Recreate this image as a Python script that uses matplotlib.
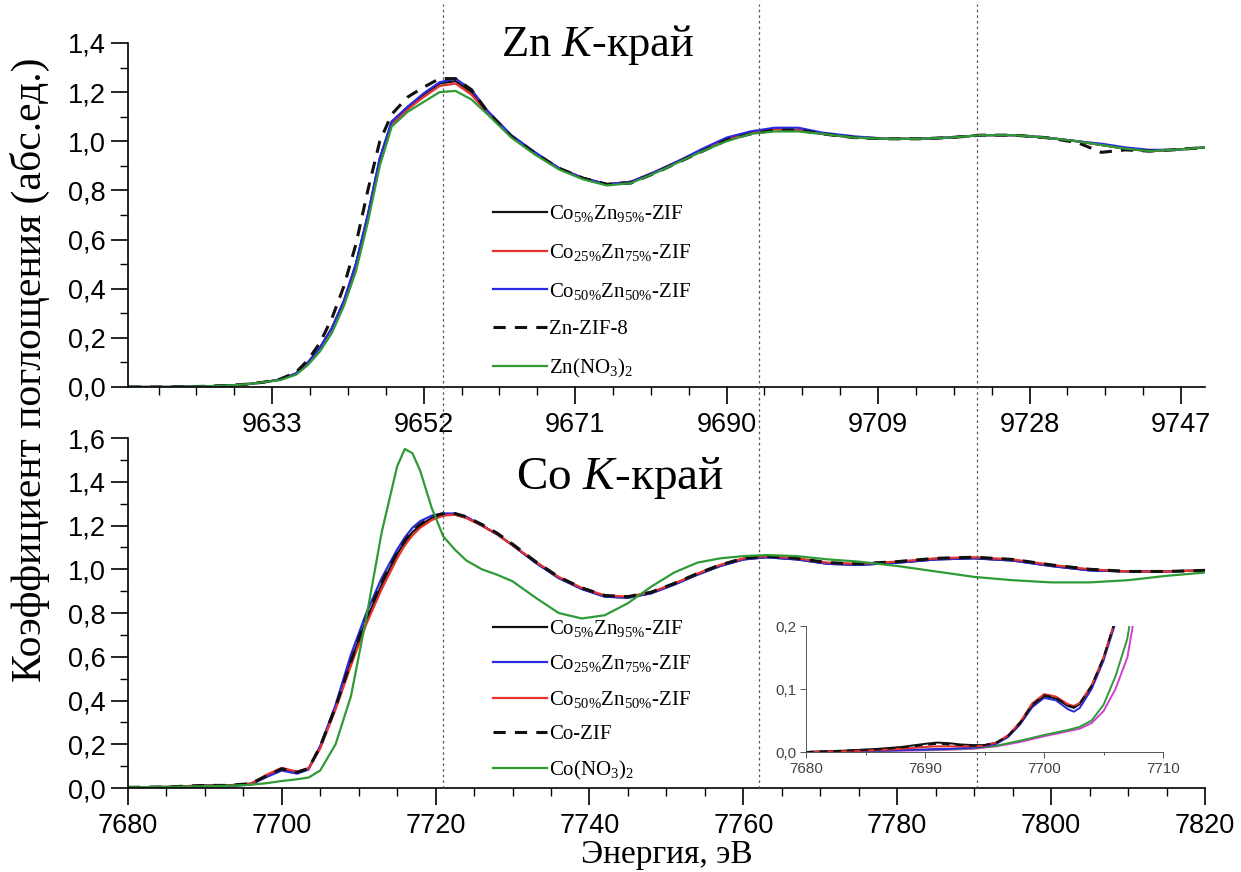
import matplotlib
matplotlib.use("Agg")
import matplotlib.pyplot as plt
import matplotlib.transforms as mtransforms
from matplotlib.lines import Line2D
from matplotlib.ticker import MultipleLocator, FuncFormatter

plt.rcParams['font.family'] = 'Liberation Sans'
plt.rcParams['mathtext.fontset'] = 'custom'
plt.rcParams['mathtext.rm'] = 'Liberation Serif'
plt.rcParams['mathtext.it'] = 'Liberation Serif:italic'
SERIF = 'Liberation Serif'

# ---------------- Zn K-edge (top) ----------------
E_ZN = [9615, 9620, 9625, 9628, 9630, 9632, 9634, 9636, 9637.5, 9639, 9640.5, 9642,
        9643.5, 9645, 9646.5, 9648, 9650, 9652, 9654, 9656, 9658, 9660, 9663, 9666,
        9669, 9672, 9675, 9678, 9681, 9684, 9687, 9690, 9693, 9696, 9699, 9702, 9706,
        9710, 9714, 9718, 9722, 9726, 9730, 9734, 9737, 9740, 9743, 9746, 9750]
ZN_CO5 = [0.0, 0.0, 0.003, 0.007, 0.012, 0.02, 0.03, 0.055, 0.10, 0.16, 0.24, 0.35,
          0.50, 0.70, 0.93, 1.08, 1.14, 1.19, 1.235, 1.245, 1.20, 1.12, 1.02, 0.95,
          0.89, 0.85, 0.825, 0.835, 0.875, 0.92, 0.965, 1.01, 1.035, 1.05, 1.045, 1.03,
          1.015, 1.01, 1.01, 1.015, 1.025, 1.025, 1.015, 1.0, 0.985, 0.97, 0.96, 0.965, 0.975]
ZN_CO25 = [0.0, 0.0, 0.003, 0.007, 0.012, 0.02, 0.03, 0.055, 0.10, 0.16, 0.24, 0.35,
           0.49, 0.69, 0.92, 1.07, 1.13, 1.18, 1.225, 1.235, 1.19, 1.115, 1.02, 0.95,
           0.89, 0.85, 0.825, 0.835, 0.875, 0.92, 0.965, 1.01, 1.035, 1.05, 1.045, 1.03,
           1.015, 1.01, 1.01, 1.015, 1.025, 1.025, 1.015, 1.0, 0.985, 0.97, 0.96, 0.965, 0.975]
ZN_CO50 = [0.0, 0.0, 0.003, 0.007, 0.012, 0.02, 0.03, 0.055, 0.10, 0.16, 0.24, 0.35,
           0.50, 0.70, 0.93, 1.08, 1.14, 1.195, 1.24, 1.255, 1.21, 1.125, 1.025, 0.955,
           0.89, 0.85, 0.825, 0.835, 0.875, 0.92, 0.97, 1.015, 1.04, 1.055, 1.055, 1.035,
           1.02, 1.01, 1.01, 1.015, 1.025, 1.025, 1.015, 1.0, 0.99, 0.975, 0.965, 0.965, 0.975]
ZN_ZIF8 = [0.0, 0.0, 0.003, 0.007, 0.012, 0.02, 0.032, 0.06, 0.11, 0.18, 0.28, 0.41,
           0.58, 0.80, 1.0, 1.11, 1.18, 1.22, 1.255, 1.255, 1.21, 1.12, 1.02, 0.95,
           0.89, 0.85, 0.825, 0.83, 0.87, 0.915, 0.96, 1.005, 1.03, 1.045, 1.045, 1.03,
           1.015, 1.01, 1.01, 1.015, 1.025, 1.025, 1.015, 0.995, 0.955, 0.965, 0.96, 0.965, 0.975]
ZN_NO3 = [0.0, 0.0, 0.003, 0.007, 0.012, 0.02, 0.028, 0.05, 0.09, 0.145, 0.22, 0.33,
          0.47, 0.67, 0.90, 1.06, 1.12, 1.16, 1.20, 1.205, 1.17, 1.11, 1.015, 0.945,
          0.885, 0.845, 0.82, 0.83, 0.87, 0.915, 0.96, 1.0, 1.03, 1.04, 1.04, 1.03,
          1.015, 1.01, 1.01, 1.015, 1.025, 1.025, 1.015, 1.0, 0.985, 0.97, 0.96, 0.965, 0.975]
ZN_TICKS = [9633, 9652, 9671, 9690, 9709, 9728, 9747]

# ---------------- Co K-edge (bottom) ----------------
E_CO = [7680, 7685, 7690, 7693, 7696, 7698, 7700, 7702, 7703.5, 7705, 7707, 7709,
        7711, 7713, 7715, 7716, 7717, 7718, 7719.5, 7721, 7722.5, 7724, 7726, 7728,
        7730, 7733, 7736, 7739, 7742, 7745, 7748, 7751, 7754, 7757, 7760, 7763, 7767,
        7771, 7775, 7780, 7785, 7790, 7795, 7800, 7805, 7810, 7815, 7820]
CO_CO5 = [0.003, 0.005, 0.012, 0.012, 0.02, 0.055, 0.085, 0.072, 0.09, 0.19, 0.37, 0.58,
          0.77, 0.93, 1.07, 1.125, 1.17, 1.2, 1.235, 1.25, 1.25, 1.235, 1.2, 1.16, 1.11,
          1.03, 0.96, 0.91, 0.875, 0.87, 0.89, 0.93, 0.975, 1.015, 1.045, 1.055, 1.045,
          1.025, 1.02, 1.03, 1.045, 1.05, 1.04, 1.015, 0.995, 0.99, 0.99, 0.995]
CO_CO25 = [0.002, 0.004, 0.008, 0.008, 0.016, 0.05, 0.08, 0.066, 0.085, 0.19, 0.38, 0.61,
           0.80, 0.96, 1.09, 1.145, 1.19, 1.22, 1.245, 1.255, 1.255, 1.24, 1.2, 1.16, 1.11,
           1.03, 0.96, 0.91, 0.875, 0.87, 0.89, 0.93, 0.975, 1.015, 1.045, 1.055, 1.045,
           1.025, 1.02, 1.03, 1.045, 1.05, 1.04, 1.015, 0.995, 0.99, 0.99, 0.995]
CO_CO50 = [0.003, 0.005, 0.01, 0.01, 0.02, 0.06, 0.092, 0.075, 0.09, 0.18, 0.36, 0.56,
           0.75, 0.91, 1.05, 1.11, 1.155, 1.19, 1.225, 1.245, 1.25, 1.235, 1.2, 1.16, 1.11,
           1.035, 0.965, 0.915, 0.88, 0.875, 0.895, 0.935, 0.98, 1.02, 1.05, 1.06, 1.05,
           1.03, 1.025, 1.035, 1.05, 1.055, 1.045, 1.02, 1.0, 0.99, 0.99, 0.995]
CO_ZIF = [0.003, 0.005, 0.012, 0.012, 0.02, 0.055, 0.088, 0.072, 0.09, 0.19, 0.37, 0.58,
          0.78, 0.94, 1.075, 1.13, 1.175, 1.205, 1.24, 1.255, 1.255, 1.24, 1.205, 1.165, 1.115,
          1.035, 0.965, 0.915, 0.88, 0.875, 0.895, 0.935, 0.98, 1.02, 1.05, 1.06, 1.05,
          1.03, 1.025, 1.035, 1.05, 1.055, 1.045, 1.02, 1.0, 0.99, 0.99, 0.995]
CO_NO3 = [0.003, 0.005, 0.008, 0.01, 0.015, 0.022, 0.032, 0.04, 0.048, 0.08, 0.2, 0.42,
          0.78, 1.17, 1.47, 1.55, 1.53, 1.45, 1.28, 1.15, 1.09, 1.04, 1.0, 0.975, 0.945,
          0.87, 0.80, 0.775, 0.79, 0.845, 0.92, 0.985, 1.03, 1.05, 1.06, 1.065, 1.06,
          1.045, 1.035, 1.015, 0.99, 0.965, 0.95, 0.94, 0.94, 0.95, 0.97, 0.985]
VLINES_CO = [7721, 7762, 7790.4]

# ---------------- inset (pre-edge of Co) ----------------
E_INS_A = [7680, 7683, 7686, 7688, 7690, 7691, 7692, 7693, 7694, 7695, 7696, 7697,
           7698, 7699, 7700, 7701, 7702, 7702.5, 7703, 7704, 7705, 7706]
INS_CO5 = [0.0, 0.002, 0.005, 0.008, 0.013, 0.015, 0.014, 0.012, 0.011, 0.011, 0.015, 0.026,
           0.046, 0.074, 0.089, 0.085, 0.073, 0.07, 0.076, 0.105, 0.15, 0.21]
INS_CO25 = [0.0, 0.001, 0.002, 0.003, 0.004, 0.005, 0.005, 0.006, 0.007, 0.009, 0.013, 0.024,
            0.044, 0.071, 0.086, 0.082, 0.068, 0.064, 0.07, 0.1, 0.145, 0.205]
INS_CO50 = [0.0, 0.001, 0.003, 0.005, 0.008, 0.009, 0.009, 0.009, 0.009, 0.01, 0.015, 0.027,
            0.048, 0.077, 0.092, 0.088, 0.076, 0.073, 0.078, 0.106, 0.15, 0.21]
INS_ZIF = [0.0, 0.002, 0.004, 0.007, 0.011, 0.013, 0.012, 0.011, 0.01, 0.011, 0.015, 0.026,
           0.047, 0.075, 0.09, 0.086, 0.074, 0.071, 0.077, 0.105, 0.15, 0.21]
E_INS_B = [7680, 7684, 7688, 7691, 7694, 7696, 7698, 7700, 7701, 7702, 7703, 7704,
           7705, 7706, 7707, 7708]
INS_NO3 = [0.0, 0.001, 0.003, 0.004, 0.006, 0.01, 0.018, 0.027, 0.031, 0.035, 0.04, 0.05,
           0.075, 0.12, 0.18, 0.3]
INS_MAG = [0.0, 0.001, 0.002, 0.003, 0.005, 0.009, 0.016, 0.025, 0.029, 0.033, 0.037, 0.046,
           0.065, 0.1, 0.15, 0.26]

LBL_ZN = [r"Co$_{5\%}$Zn$_{95\%}$-ZIF", r"Co$_{25\%}$Zn$_{75\%}$-ZIF",
          r"Co$_{50\%}$Zn$_{50\%}$-ZIF", "Zn-ZIF-8", r"Zn(NO$_3$)$_2$"]
LBL_CO = [r"Co$_{5\%}$Zn$_{95\%}$-ZIF", r"Co$_{25\%}$Zn$_{75\%}$-ZIF",
          r"Co$_{50\%}$Zn$_{50\%}$-ZIF", "Co-ZIF", r"Co(NO$_3$)$_2$"]

BLACK, RED, BLUE, GREEN, MAG = "#111111", "#e8312b", "#2a2ae0", "#2f9a36", "#d13fd6"
LW = 1.6

comma = FuncFormatter(lambda v, p: f"{v:.1f}".replace(".", ","))


def style_axes(ax, size=19.5, major=12, minor=6, pad=6):
    for s in ("top", "right"):
        ax.spines[s].set_visible(False)
    for s in ("left", "bottom"):
        ax.spines[s].set_linewidth(1.2)
    ax.tick_params(which="major", direction="out", length=major, width=1.2,
                   labelsize=size, pad=pad)
    ax.tick_params(which="minor", direction="out", length=minor, width=1.0)


fig = plt.figure(figsize=(12.41, 8.72), dpi=100)
ax1 = fig.add_axes([0.103, 0.5562, 0.868, 0.3945])
ax2 = fig.add_axes([0.103, 0.0963, 0.868, 0.4014])
ins = fig.add_axes([0.6495, 0.1376, 0.2877, 0.1445])

# --- top: Zn K-edge ---
ax1.plot(E_ZN, ZN_CO5, color=BLACK, lw=LW, label=LBL_ZN[0])
ax1.plot(E_ZN, ZN_CO25, color=RED, lw=LW, label=LBL_ZN[1])
ax1.plot(E_ZN, ZN_CO50, color=BLUE, lw=LW, label=LBL_ZN[2])
ax1.plot(E_ZN, ZN_ZIF8, color=BLACK, lw=2.2, ls=(0, (4, 3)), label=LBL_ZN[3])
ax1.plot(E_ZN, ZN_NO3, color=GREEN, lw=LW, label=LBL_ZN[4])
ax1.set_xlim(9614.9, 9750)
ax1.set_ylim(0, 1.4)
ax1.set_xticks(ZN_TICKS)
ax1.xaxis.set_minor_locator(MultipleLocator(4.75))
ax1.yaxis.set_major_locator(MultipleLocator(0.2))
ax1.yaxis.set_minor_locator(MultipleLocator(0.1))
ax1.yaxis.set_major_formatter(comma)
style_axes(ax1)
ax1.tick_params(axis="y", pad=4)
ax1.text(0.436, 0.994, r"Zn $\mathit{K}$-край", transform=ax1.transAxes,
         ha="center", va="center", family=SERIF, fontsize=32)
ax1.legend(loc="upper left", bbox_to_anchor=(0.331, 0.558), frameon=False,
           prop={"family": SERIF, "size": 15}, handlelength=2.6,
           handletextpad=0.1, labelspacing=0.85, borderaxespad=0)

# --- bottom: Co K-edge ---
ax2.plot(E_CO, CO_CO5, color=BLACK, lw=LW, label=LBL_CO[0])
ax2.plot(E_CO, CO_CO25, color=BLUE, lw=LW, label=LBL_CO[1])
ax2.plot(E_CO, CO_CO50, color=RED, lw=LW, label=LBL_CO[2])
ax2.plot(E_CO, CO_ZIF, color=BLACK, lw=2.2, ls=(0, (4, 3)), label=LBL_CO[3])
ax2.plot(E_CO, CO_NO3, color=GREEN, lw=LW, label=LBL_CO[4])
ax2.set_xlim(7680, 7820)
ax2.set_ylim(0, 1.6)
ax2.xaxis.set_major_locator(MultipleLocator(20))
ax2.xaxis.set_minor_locator(MultipleLocator(5))
ax2.yaxis.set_major_locator(MultipleLocator(0.2))
ax2.yaxis.set_minor_locator(MultipleLocator(0.1))
ax2.yaxis.set_major_formatter(comma)
style_axes(ax2)
ax2.tick_params(axis="y", pad=4)
ax2.text(0.457, 0.886, r"Co $\mathit{K}$-край", transform=ax2.transAxes,
         ha="center", va="center", family=SERIF, fontsize=34)
ax2.legend(loc="upper left", bbox_to_anchor=(0.331, 0.51), frameon=False,
           prop={"family": SERIF, "size": 15}, handlelength=2.6,
           handletextpad=0.1, labelspacing=0.7, borderaxespad=0)
ax2.set_xlabel("Энергия, эВ", family=SERIF, fontsize=24, labelpad=0)

# --- inset ---
ins.plot(E_INS_B, INS_MAG, color=MAG, lw=1.4)
ins.plot(E_INS_B, INS_NO3, color=GREEN, lw=1.4)
ins.plot(E_INS_A, INS_CO25, color=BLUE, lw=1.4)
ins.plot(E_INS_A, INS_CO5, color=BLACK, lw=1.4)
ins.plot(E_INS_A, INS_CO50, color=RED, lw=1.4)
ins.plot(E_INS_A, INS_ZIF, color=BLACK, lw=1.4, ls=(0, (4, 3)))
ins.set_xlim(7680, 7710)
ins.set_ylim(0, 0.2)
ins.xaxis.set_major_locator(MultipleLocator(10))
ins.xaxis.set_minor_locator(MultipleLocator(5))
ins.yaxis.set_major_locator(MultipleLocator(0.1))
ins.yaxis.set_major_formatter(comma)
ins.patch.set_alpha(0)
style_axes(ins, size=11, major=4, minor=2.5, pad=3)
for s in ("left", "bottom"):
    ins.spines[s].set_linewidth(0.7)
    ins.spines[s].set_color("#555555")
ins.tick_params(which="both", width=0.7, colors="#555555", labelcolor="#444444")

# dotted guide lines through both panels
trans = mtransforms.blended_transform_factory(ax2.transData, fig.transFigure)
for xv in VLINES_CO:
    fig.add_artist(Line2D([xv, xv], [0.0963, 0.995], transform=trans,
                          color="#555555", lw=0.9, ls=(0, (2, 2.5))))

fig.text(0.024, 0.576, "Коэффициент поглощения (абс.ед.)", rotation=90,
         ha="center", va="center", family=SERIF, fontsize=30)

fig.savefig("out.png", dpi=100)
